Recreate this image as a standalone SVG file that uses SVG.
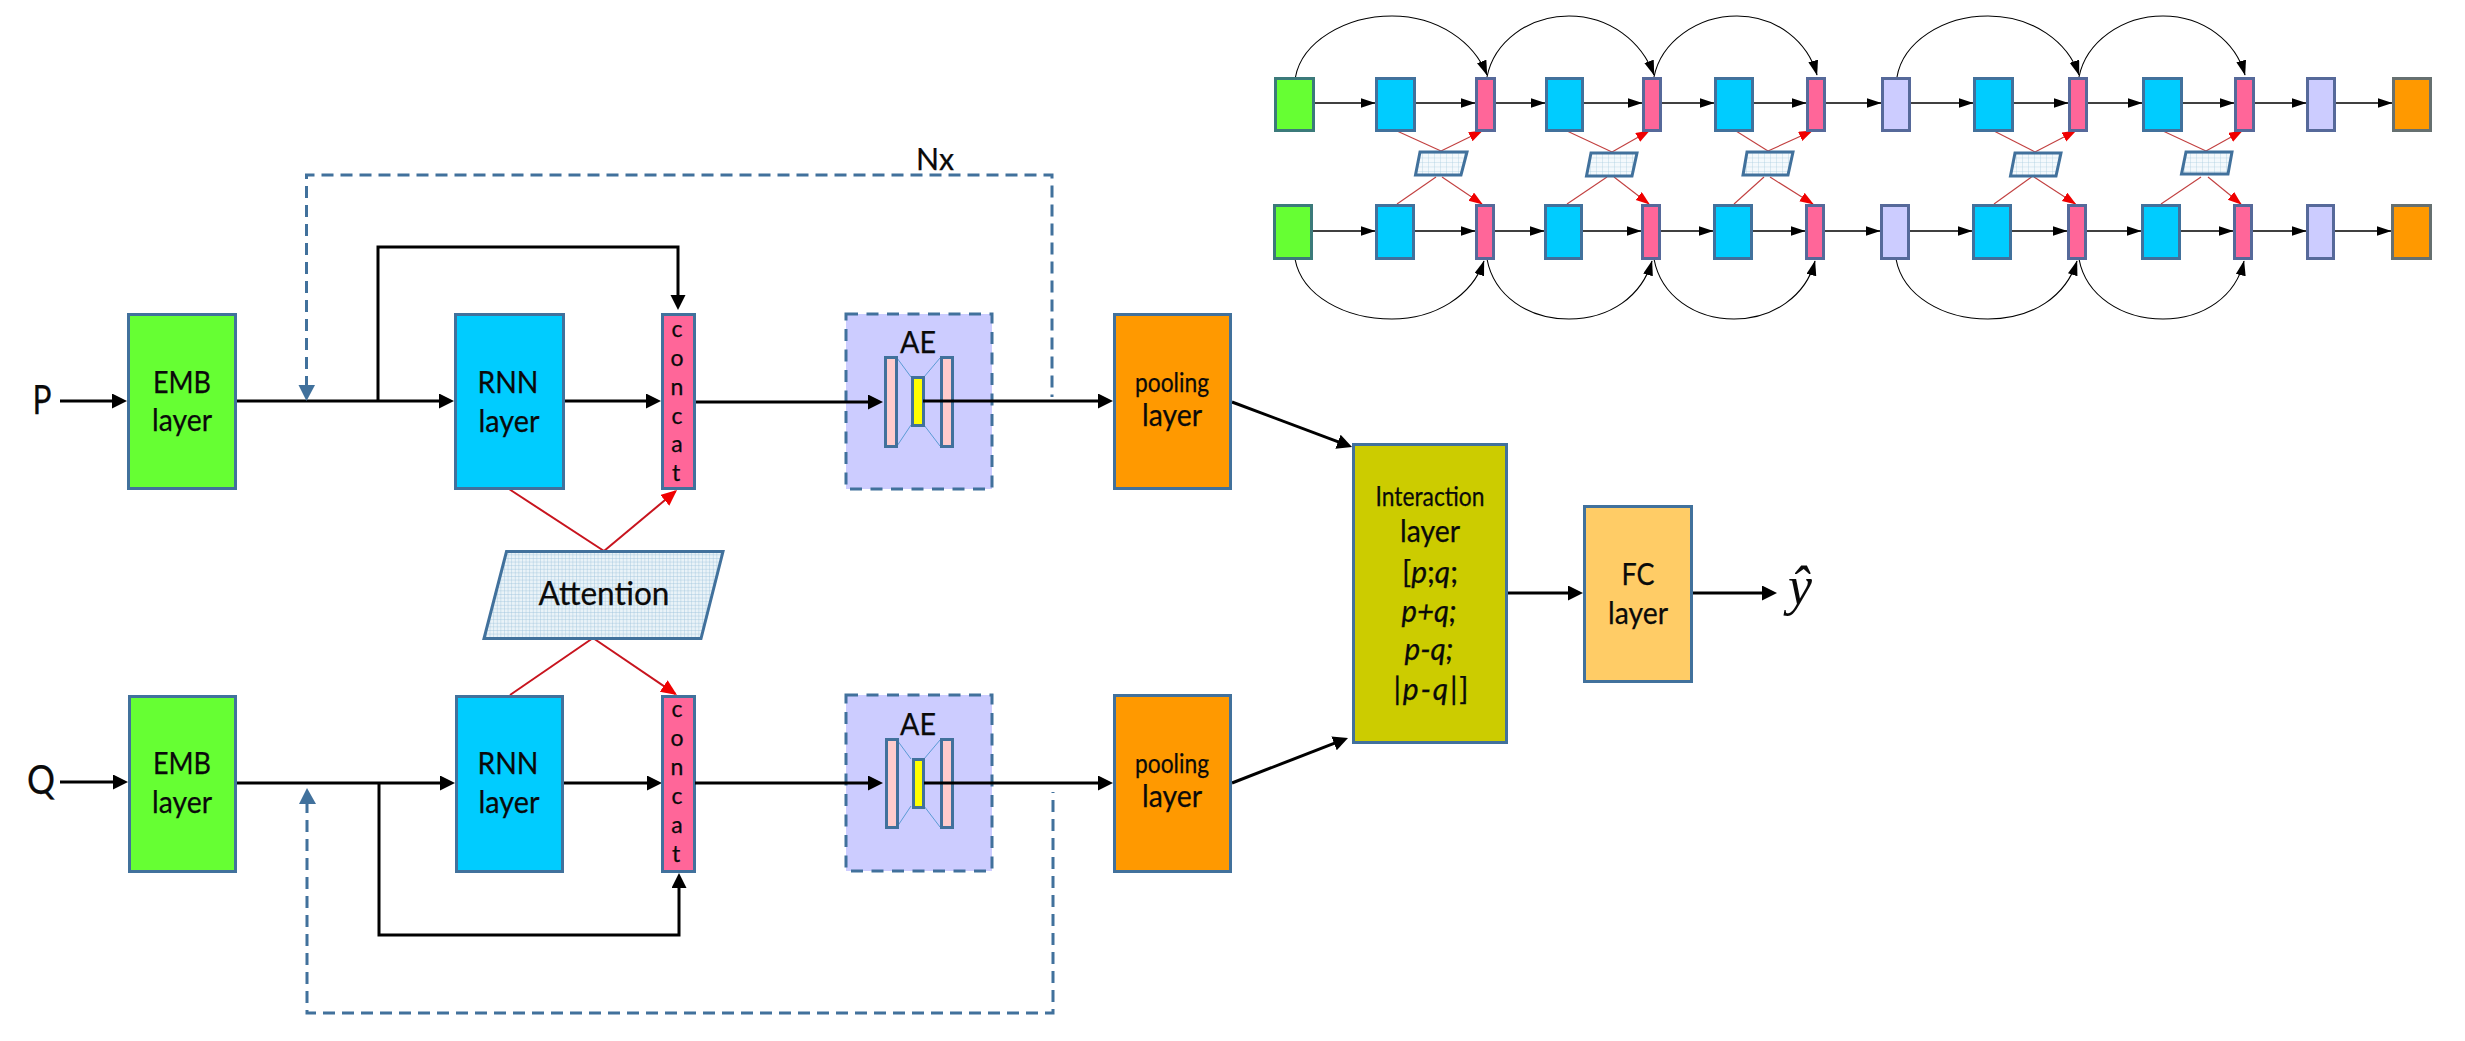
<svg xmlns="http://www.w3.org/2000/svg" width="2465" height="1041" viewBox="0 0 2465 1041">
<style>
text{font-family:Lato,Carlito,"Liberation Sans",sans-serif;fill:#0a0a0a;text-anchor:middle;stroke:#0a0a0a;stroke-width:.25}
.t29{font-size:30px}.t25{font-size:26px}.t23{font-size:23px}.t30{font-size:31px}.t35{font-size:40px}.t32{font-size:33px}
.box{stroke:#41719C;stroke-width:3}
.g{fill:#66FF33}.b{fill:#00CCFF}.p{fill:#FF6699}.l{fill:#CCCCFF}.o{fill:#FF9900}
.sb{stroke:#41719C;stroke-width:3}
.big{fill:none;stroke:#000;stroke-width:3;marker-end:url(#mBig)}
.s{fill:none;stroke:#000;stroke-width:1.3;marker-end:url(#mS)}
.arc{fill:none;stroke:#000;stroke-width:1.1;marker-end:url(#mS)}
.rb{fill:none;stroke:#C8141E;stroke-width:2}
.rs{fill:none;stroke:#C24040;stroke-width:1.1}
.dash{fill:none;stroke:#41719C;stroke-width:3;stroke-dasharray:12 7}
.thin{fill:none;stroke:#5B9BD5;stroke-width:1}
</style>
<defs>
<marker id="mBig" markerUnits="userSpaceOnUse" markerWidth="17" markerHeight="17" refX="11" refY="7.5" orient="auto"><path d="M0,0L15,7.5L0,15Z" fill="#000"/></marker>
<marker id="mS" markerUnits="userSpaceOnUse" markerWidth="16" markerHeight="12" refX="14.5" refY="5" orient="auto"><path d="M0,0L15,5L0,10Z" fill="#000"/></marker>
<marker id="mR" markerUnits="userSpaceOnUse" markerWidth="18" markerHeight="16" refX="14" refY="7" orient="auto"><path d="M0,0L16,7L0,14Z" fill="#F00000"/></marker>
<marker id="mRs" markerUnits="userSpaceOnUse" markerWidth="16" markerHeight="12" refX="13" refY="5" orient="auto"><path d="M0,0L14,5L0,10Z" fill="#F00000"/></marker>
<pattern id="gridL" patternUnits="userSpaceOnUse" width="3.6" height="3.6"><rect width="3.6" height="3.6" fill="#EAF3F8"/><path d="M0,0H3.6M0,0V3.6" stroke="#9CC2DA" stroke-width="0.8"/></pattern>
<pattern id="gridS" patternUnits="userSpaceOnUse" width="6" height="4.5"><rect width="6" height="4.5" fill="#F4F9FC"/><path d="M0,0H6M0,0V4.5" stroke="#A6CADF" stroke-width="0.7"/></pattern>
</defs>
<rect width="2465" height="1041" fill="#fff"/>

<g id="connectors">
<path class="big" d="M60,401H123"/>
<path class="big" d="M237,401H450"/>
<path class="big" d="M378,401V247H678V306"/>
<path class="big" d="M565,401H657"/>
<path class="big" d="M1232,402L1348.3,445.6"/>
<path class="big" d="M60,782H124"/>
<path class="big" d="M237,783H451"/>
<path class="big" d="M379,783V935H679V877"/>
<path class="big" d="M564,783H658"/>
<path class="big" d="M1232,783L1344.3,739.4"/>
<path class="big" d="M1508,593H1579"/>
<path class="big" d="M1693,593H1773"/>
<path class="dash" d="M306.5,388V175H1052V397"/>
<polygon points="298.5,385 315,385 306.5,401" fill="#41719C"/>
<path class="dash" d="M307,801V1013H1053V792"/>
<polygon points="299,804 316,804 307,788" fill="#41719C"/>
<path class="rb" d="M509,489L604,551"/>
<path class="rb" d="M604,551L675.5,491.3" marker-end="url(#mR)"/>
<path class="rb" d="M510,695L593,638"/>
<path class="rb" d="M593,638L675.3,693.9" marker-end="url(#mR)"/>

<path class="s" d="M1315,103H1375"/><path class="s" d="M1416,103H1475"/><path class="s" d="M1496,103H1545"/><path class="s" d="M1584,103H1642"/><path class="s" d="M1662,103H1714"/><path class="s" d="M1754,103H1806"/><path class="s" d="M1826,103H1881"/><path class="s" d="M1911,103H1973"/><path class="s" d="M2014,103H2068"/><path class="s" d="M2088,103H2142"/><path class="s" d="M2183,103H2234"/><path class="s" d="M2255,103H2306"/><path class="s" d="M2336,103H2392"/>
<path class="s" d="M1313,231H1375"/><path class="s" d="M1415,231H1475"/><path class="s" d="M1495,231H1544"/><path class="s" d="M1583,231H1641"/><path class="s" d="M1661,231H1713"/><path class="s" d="M1753,231H1805"/><path class="s" d="M1825,231H1880"/><path class="s" d="M1910,231H1972"/><path class="s" d="M2012,231H2067"/><path class="s" d="M2087,231H2141"/><path class="s" d="M2181,231H2233"/><path class="s" d="M2253,231H2306"/><path class="s" d="M2335,231H2391"/>

<path class="arc" d="M1295.5,77C1302,42 1345,16 1392,16C1438,16 1474,42 1487,75"/>
<path class="arc" d="M1487,77C1494,42 1528,16 1569,16C1610,16 1642,42 1654,75"/>
<path class="arc" d="M1654,77C1661,42 1697,16 1737,16C1777,16 1808,42 1817,75"/>
<path class="arc" d="M1897,77C1903,42 1943,16 1988,16C2033,16 2068,42 2079,75"/>
<path class="arc" d="M2079,77C2086,42 2122,16 2163,16C2204,16 2236,42 2245,75"/>
<path class="arc" d="M1295,259C1302,296 1345,319 1392,319C1435,319 1472,296 1484,261"/>
<path class="arc" d="M1487,259C1494,296 1528,319 1569,319C1610,319 1642,296 1652,261"/>
<path class="arc" d="M1654,259C1661,296 1695,319 1734,319C1773,319 1806,296 1815,261"/>
<path class="arc" d="M1896,259C1903,296 1943,319 1988,319C2033,319 2066,296 2077,261"/>
<path class="arc" d="M2079,259C2086,296 2122,319 2163,319C2204,319 2236,296 2244,261"/>

<path class="rs" d="M1397,131L1441,151"/><path class="rs" d="M1441,151L1482,131" marker-end="url(#mRs)"/>
<path class="rs" d="M1567,131L1612,152"/><path class="rs" d="M1612,152L1649,131" marker-end="url(#mRs)"/>
<path class="rs" d="M1736,131L1768,151"/><path class="rs" d="M1768,151L1812,131" marker-end="url(#mRs)"/>
<path class="rs" d="M1994,131L2035,152"/><path class="rs" d="M2035,152L2075.5,131" marker-end="url(#mRs)"/>
<path class="rs" d="M2163,131L2206,151"/><path class="rs" d="M2206,151L2242,131" marker-end="url(#mRs)"/>
<path class="rs" d="M1397,204L1436,177"/><path class="rs" d="M1442,177L1482,204" marker-end="url(#mRs)"/>
<path class="rs" d="M1567,204L1607,177"/><path class="rs" d="M1614,177L1649,204" marker-end="url(#mRs)"/>
<path class="rs" d="M1734,204L1764,177"/><path class="rs" d="M1770,177L1813,204" marker-end="url(#mRs)"/>
<path class="rs" d="M1994,204L2031.5,177"/><path class="rs" d="M2034,177L2075.5,204" marker-end="url(#mRs)"/>
<path class="rs" d="M2161,204L2201,177"/><path class="rs" d="M2208,177L2241,204" marker-end="url(#mRs)"/>
</g>

<g id="label-P"><text class="t35" x="42" y="414" textLength="19" lengthAdjust="spacingAndGlyphs">P</text></g>
<g id="label-Q"><text class="t35" x="41" y="794" textLength="28" lengthAdjust="spacingAndGlyphs">Q</text></g>
<g id="label-Nx"><text class="t30" x="935" y="170" textLength="38" lengthAdjust="spacingAndGlyphs">Nx</text></g>

<g id="emb-p"><rect class="box g" x="128.5" y="314.5" width="107" height="174"/><text class="t29" x="182" y="393" textLength="58" lengthAdjust="spacingAndGlyphs">EMB</text><text class="t29" x="182" y="431" textLength="60" lengthAdjust="spacingAndGlyphs">layer</text></g>
<g id="rnn-p"><rect class="box b" x="455.5" y="314.5" width="108" height="174"/><text class="t29" x="508" y="393" textLength="61" lengthAdjust="spacingAndGlyphs">RNN</text><text class="t29" x="509" y="432" textLength="61" lengthAdjust="spacingAndGlyphs">layer</text></g>
<g id="concat-p"><rect class="box p" x="662.5" y="314.5" width="32" height="174"/>
<text class="t23" x="677" y="337">c</text><text class="t23" x="677" y="366">o</text><text class="t23" x="677" y="395">n</text><text class="t23" x="677" y="424">c</text><text class="t23" x="677" y="452">a</text><text class="t23" x="676" y="481">t</text></g>
<g id="attention"><polygon class="box" points="506.5,551.5 723,551.5 701,638.5 484,638.5" fill="url(#gridL)"/><text class="t32" x="604" y="605" textLength="131" lengthAdjust="spacingAndGlyphs">Attention</text></g>
<g id="ae-p"><rect x="846" y="314" width="146" height="175" fill="#CCCCFF" stroke="#41719C" stroke-width="3" stroke-dasharray="12 8.5"/>
<path class="thin" d="M897,358L911,377M940,358L924,377M897,446L911,425M940,446L924,425"/>
<rect x="885.5" y="357.5" width="11" height="89" fill="#FFCCCC" stroke="#41719C" stroke-width="3"/>
<rect x="941.5" y="357.5" width="11" height="89" fill="#FFCCCC" stroke="#41719C" stroke-width="3"/>
<rect x="912.5" y="377.5" width="11" height="48" fill="#FFFF00" stroke="#41719C" stroke-width="3"/>
<text class="t30" x="918" y="353" textLength="36" lengthAdjust="spacingAndGlyphs">AE</text></g>
<g id="pool-p"><rect class="box o" x="1114.5" y="314.5" width="116" height="174"/><text class="t25" x="1172" y="392" textLength="74" lengthAdjust="spacingAndGlyphs">pooling</text><text class="t29" x="1172" y="426" textLength="60" lengthAdjust="spacingAndGlyphs">layer</text></g>

<g id="emb-q"><rect class="box g" x="129.5" y="696.5" width="106" height="175"/><text class="t29" x="182" y="774" textLength="58" lengthAdjust="spacingAndGlyphs">EMB</text><text class="t29" x="182" y="813" textLength="60" lengthAdjust="spacingAndGlyphs">layer</text></g>
<g id="rnn-q"><rect class="box b" x="456.5" y="696.5" width="106" height="175"/><text class="t29" x="508" y="774" textLength="61" lengthAdjust="spacingAndGlyphs">RNN</text><text class="t29" x="509" y="813" textLength="61" lengthAdjust="spacingAndGlyphs">layer</text></g>
<g id="concat-q"><rect class="box p" x="662.5" y="696.5" width="32" height="175"/>
<text class="t23" x="677" y="717">c</text><text class="t23" x="677" y="746">o</text><text class="t23" x="677" y="775">n</text><text class="t23" x="677" y="804">c</text><text class="t23" x="677" y="833">a</text><text class="t23" x="676" y="862">t</text></g>
<g id="ae-q"><rect x="846" y="695" width="146" height="176" fill="#CCCCFF" stroke="#41719C" stroke-width="3" stroke-dasharray="12 8.5"/>
<path class="thin" d="M897,740L911,759M940,740L924,759M897,827L911,806M940,827L924,806"/>
<rect x="886.5" y="739.5" width="11" height="88" fill="#FFCCCC" stroke="#41719C" stroke-width="3"/>
<rect x="941.5" y="739.5" width="11" height="88" fill="#FFCCCC" stroke="#41719C" stroke-width="3"/>
<rect x="913.5" y="759.5" width="10" height="48" fill="#FFFF00" stroke="#41719C" stroke-width="3"/>
<text class="t30" x="918" y="735" textLength="36" lengthAdjust="spacingAndGlyphs">AE</text></g>
<g id="pool-q"><rect class="box o" x="1114.5" y="695.5" width="116" height="176"/><text class="t25" x="1172" y="773" textLength="74" lengthAdjust="spacingAndGlyphs">pooling</text><text class="t29" x="1172" y="807" textLength="60" lengthAdjust="spacingAndGlyphs">layer</text></g>

<g id="connectors-over-ae">
<path class="big" d="M696,402H879"/>
<path class="big" d="M695,783H879"/>
<path class="big" d="M923,401H1109"/>
<path class="big" d="M924,783H1109"/>
</g>

<g id="interaction"><rect class="box" x="1353.5" y="444.5" width="153" height="298" fill="#CCCC00"/>
<text class="t25" x="1430" y="506" textLength="109" lengthAdjust="spacingAndGlyphs">Interaction</text><text class="t29" x="1430" y="542" textLength="60" lengthAdjust="spacingAndGlyphs">layer</text>
<text class="t29" x="1430" y="583" textLength="56" lengthAdjust="spacingAndGlyphs">[<tspan font-style="italic">p</tspan>;<tspan font-style="italic">q</tspan>;</text>
<text class="t29" x="1429" y="622" font-style="italic" textLength="55" lengthAdjust="spacingAndGlyphs">p+q;</text>
<text class="t29" x="1429" y="660" font-style="italic" textLength="49" lengthAdjust="spacingAndGlyphs">p-q;</text>
<text class="t29" x="1431" y="700" textLength="75" lengthAdjust="spacing">|<tspan font-style="italic">p-q</tspan>|]</text></g>
<g id="fc"><rect class="box" x="1584.5" y="506.5" width="107" height="175" fill="#FFCC66"/><text class="t30" x="1638" y="585" textLength="33" lengthAdjust="spacingAndGlyphs">FC</text><text class="t29" x="1638" y="624" textLength="60" lengthAdjust="spacingAndGlyphs">layer</text></g>
<g id="label-y"><text x="1800" y="604" style="font-family:'Liberation Serif',serif;font-style:italic;font-size:54px;stroke:none">ŷ</text></g>

<g id="top-row">
<g id="t1"><rect class="sb g" x="1275.5" y="78.5" width="38" height="52" style="stroke:#3B7A7A"/></g>
<g id="t2"><rect class="sb b" x="1376.5" y="78.5" width="38" height="52"/></g>
<g id="t3"><rect class="sb p" x="1476.5" y="78.5" width="18" height="52" style="stroke:#56699A"/></g>
<g id="t4"><rect class="sb b" x="1546.5" y="78.5" width="36" height="52"/></g>
<g id="t5"><rect class="sb p" x="1643.5" y="78.5" width="17" height="52" style="stroke:#56699A"/></g>
<g id="t6"><rect class="sb b" x="1715.5" y="78.5" width="37" height="52"/></g>
<g id="t7"><rect class="sb p" x="1807.5" y="78.5" width="17" height="52" style="stroke:#56699A"/></g>
<g id="t8"><rect class="sb l" x="1882.5" y="78.5" width="27" height="52" style="stroke:#56699A"/></g>
<g id="t9"><rect class="sb b" x="1974.5" y="78.5" width="38" height="52"/></g>
<g id="t10"><rect class="sb p" x="2069.5" y="78.5" width="17" height="52" style="stroke:#56699A"/></g>
<g id="t11"><rect class="sb b" x="2143.5" y="78.5" width="38" height="52"/></g>
<g id="t12"><rect class="sb p" x="2235.5" y="78.5" width="18" height="52" style="stroke:#56699A"/></g>
<g id="t13"><rect class="sb l" x="2307.5" y="78.5" width="27" height="52" style="stroke:#56699A"/></g>
<g id="t14"><rect class="sb o" x="2393.5" y="78.5" width="37" height="52" style="stroke:#667070"/></g>
</g>
<g id="bottom-row">
<g id="b1"><rect class="sb g" x="1274.5" y="205.5" width="37" height="53" style="stroke:#3B7A7A"/></g>
<g id="b2"><rect class="sb b" x="1376.5" y="205.5" width="37" height="53"/></g>
<g id="b3"><rect class="sb p" x="1476.5" y="205.5" width="17" height="53" style="stroke:#56699A"/></g>
<g id="b4"><rect class="sb b" x="1545.5" y="205.5" width="36" height="53"/></g>
<g id="b5"><rect class="sb p" x="1642.5" y="205.5" width="17" height="53" style="stroke:#56699A"/></g>
<g id="b6"><rect class="sb b" x="1714.5" y="205.5" width="37" height="53"/></g>
<g id="b7"><rect class="sb p" x="1806.5" y="205.5" width="17" height="53" style="stroke:#56699A"/></g>
<g id="b8"><rect class="sb l" x="1881.5" y="205.5" width="27" height="53" style="stroke:#56699A"/></g>
<g id="b9"><rect class="sb b" x="1973.5" y="205.5" width="37" height="53"/></g>
<g id="b10"><rect class="sb p" x="2068.5" y="205.5" width="17" height="53" style="stroke:#56699A"/></g>
<g id="b11"><rect class="sb b" x="2142.5" y="205.5" width="37" height="53"/></g>
<g id="b12"><rect class="sb p" x="2234.5" y="205.5" width="17" height="53" style="stroke:#56699A"/></g>
<g id="b13"><rect class="sb l" x="2307.5" y="205.5" width="26" height="53" style="stroke:#56699A"/></g>
<g id="b14"><rect class="sb o" x="2392.5" y="205.5" width="38" height="53" style="stroke:#667070"/></g>
</g>
<g id="a1"><polygon class="sb" points="1420,152 1467,152 1461,175 1415.5,175" fill="url(#gridS)"/></g>
<g id="a2"><polygon class="sb" points="1591,153 1637,153 1632,176 1586.5,176" fill="url(#gridS)"/></g>
<g id="a3"><polygon class="sb" points="1747,152 1793,152 1788,175 1743,175" fill="url(#gridS)"/></g>
<g id="a4"><polygon class="sb" points="2015,153 2061,153 2056,176 2010.5,176" fill="url(#gridS)"/></g>
<g id="a5"><polygon class="sb" points="2186,152 2232,152 2228,174 2181.5,174" fill="url(#gridS)"/></g>
</svg>
